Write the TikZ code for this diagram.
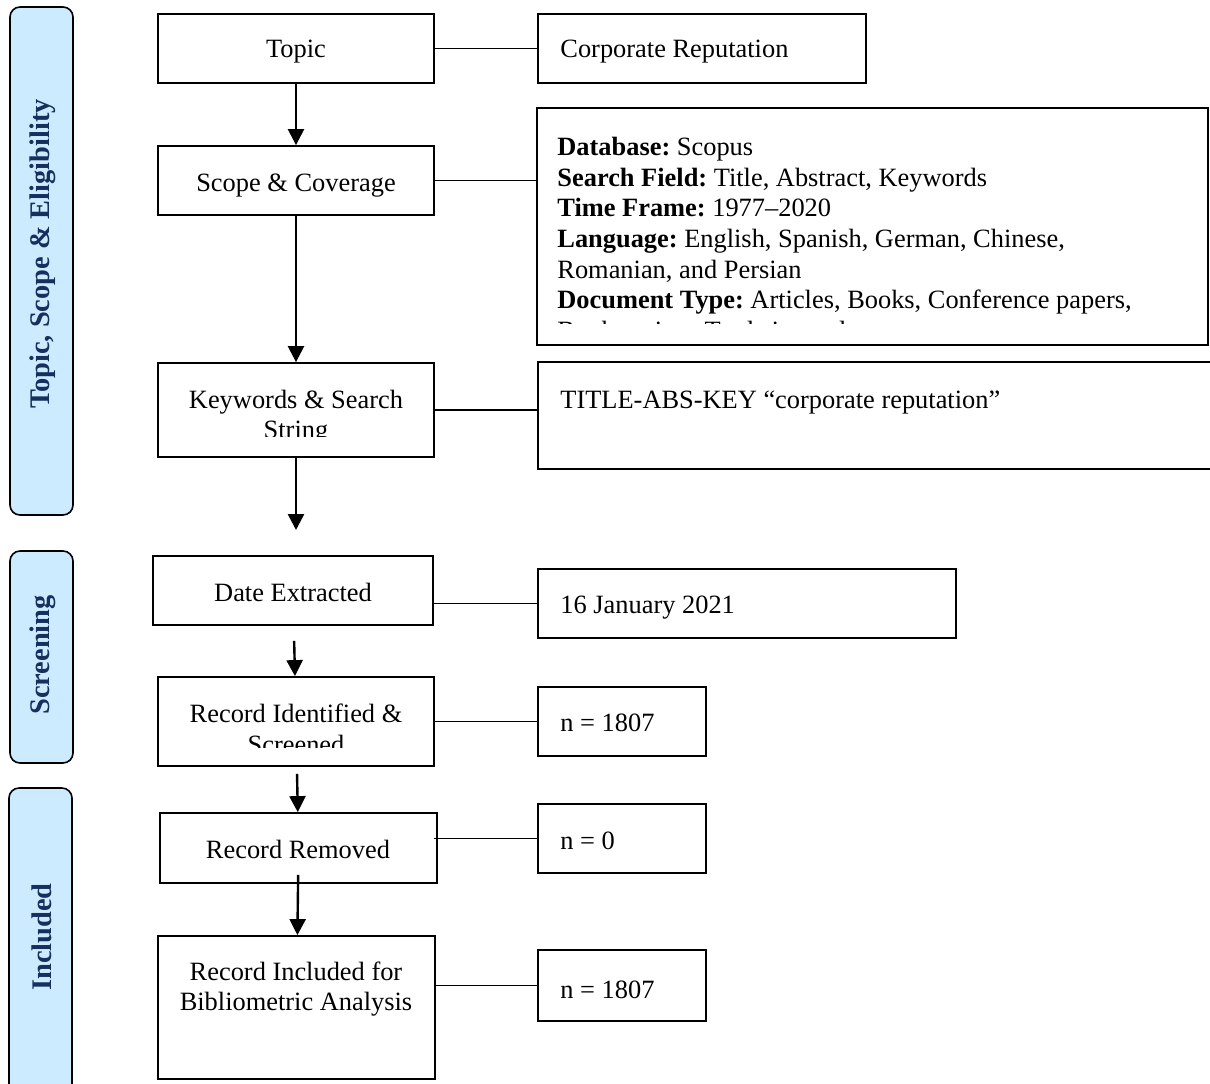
\documentclass[tikz,border=0pt]{standalone}
\usepackage{fontspec}
\setmainfont{Liberation Serif}
\usepackage{tikz}
\usetikzlibrary{positioning,arrows.meta,calc,fit}
\definecolor{phaseblue}{HTML}{CCEBFF}
\definecolor{phasenavy}{HTML}{14305E}
\frenchspacing
\tikzset{
  box/.style={draw,line width=0.9pt,inner sep=0pt},
  phase/.style={draw,rounded corners=5pt,fill=phaseblue,line width=0.8pt,inner sep=0pt},
  phasetxt/.style={rotate=90,text=phasenavy,font=\bfseries\fontsize{14.2}{17}\selectfont,inner sep=0pt},
  txt/.style={inner sep=0pt,align=center,font=\fontsize{13.2}{15.3}\selectfont},
  ltxt/.style={txt,align=left,anchor=west},
  arr/.style={-{Triangle[length=8pt,width=8pt]},line width=1.2pt},
  link/.style={line width=0.8pt},
}

\begin{document}
\begin{tikzpicture}[x=0.5pt,y=-0.5pt]
\useasboundingbox (0,0) rectangle (1210,1083);
\clip (0,0) rectangle (1210,1083);

\node[phase, fit={(10,7) (73,515)}] (ph1) {};
\node[phasetxt] (ph1t) at (43,254) {Topic, Scope \& Eligibility};
\node[phase, fit={(10,551) (73,763)}] (ph2) {};
\node[phasetxt] (ph2t) at (43,655) {Screening};
\node[phase, fit={(9,788) (72,1100)}] (ph3) {};
\node[phasetxt] (ph3t) at (42,937) {Included};

\node[box, fit={(158,14) (434,83)}] (topic) {};
\node[txt] (topict) at (296,52) {Topic};
\node[box, fit={(158,146) (434,215)}] (scope) {};
\node[txt] (scopet) at (296,186) {Scope \& Coverage};
\node[box, fit={(158,363) (434,457)}] (kw) {};
\begin{scope}
\clip (158,363) rectangle (434,436);
\node[txt] (kwt) at (296,417) {Keywords \& Search\\String};
\end{scope}
\node[box, fit={(153,556) (433,625)}] (date) {};
\node[txt] (datet) at (293,592) {Date Extracted};
\node[box, fit={(158,677) (434,766)}] (recid) {};
\begin{scope}
\clip (158,677) rectangle (434,747);
\node[txt] (recidt) at (296,729) {Record Identified \&\\Screened};
\end{scope}
\node[box, fit={(160,813) (437,883)}] (recrm) {};
\node[txt] (recrmt) at (298,849) {Record Removed};
\node[box, fit={(158,936) (435,1079)}] (recin) {};
\node[txt] (recint) at (296,989) {Record Included for\\Bibliometric Analysis};

\node[box, fit={(538,14) (866,83)}] (corp) {};
\node[ltxt] (corpt) at (560,52) {Corporate Reputation};
\node[box, fit={(537,108) (1208,345)}] (db) {};
\begin{scope}
\clip (537,108) rectangle (1208,323);
\node[ltxt, anchor=north west] (dbt) at (557,137) {\textbf{Database:} Scopus\\
  \textbf{Search Field:} Title, Abstract, Keywords\\
  \textbf{Time Frame:} 1977--2020\\
  \textbf{Language:} English, Spanish, German, Chinese,\\
  Romanian, and Persian\\
  \textbf{Document Type:} Articles, Books, Conference papers,\\
  Book review, Trade journals};
\end{scope}
\node[box, fit={(538,362) (1216,469)}] (qry) {};
\node[ltxt] (qryt) at (560,403) {TITLE-ABS-KEY “corporate reputation”};
\node[box, fit={(538,569) (956,638)}] (jan) {};
\node[ltxt] (jant) at (560,608) {16 January 2021};
\node[box, fit={(538,687) (706,756)}] (nid) {};
\node[ltxt] (nidt) at (560,723) {n = 1807};
\node[box, fit={(538,804) (706,873)}] (nrm) {};
\node[ltxt] (nrmt) at (560,841) {n = 0};
\node[box, fit={(538,950) (706,1021)}] (nin) {};
\node[ltxt] (nint) at (560,990) {n = 1807};

\draw[link] (topic) -- (corp);
\draw[link] (scope.east) -- (scope.east -| db.west);
\draw[link] (kw.east) -- (kw.east -| qry.west);
\draw[link] (jan.west -| date.east) -- (jan.west);
\draw[link] (recid) -- (nid);
\draw[link] ([xshift=-2pt]nrm.west -| recrm.east) -- (nrm.west);
\draw[link] (nin.west -| recin.east) -- (nin.west);

\coordinate (kwend) at (296,530);
\draw[arr] (topic) -- (scope);
\draw[arr] (scope) -- (kw);
\draw[arr] (kw) -- (kwend);
\draw[arr, shorten <=7.5pt] (date) -- (recid);
\draw[arr, shorten <=3.5pt] (recid) -- (recrm);
\draw[arr, shorten <=-4.5pt] (recrm) -- (recin);
\end{tikzpicture}
\end{document}
